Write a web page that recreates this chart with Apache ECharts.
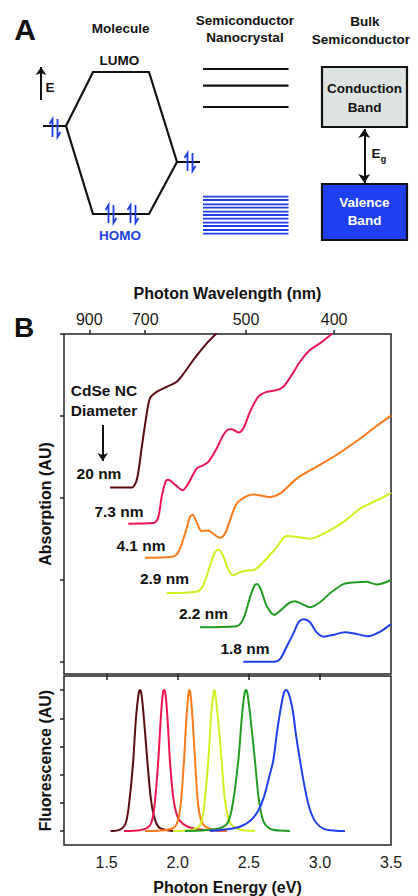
<!DOCTYPE html>
<html>
<head>
<meta charset="utf-8">
<script src="https://cdn.jsdelivr.net/npm/echarts@6/dist/echarts.min.js"></script>
<style>
  html, body { margin: 0; padding: 0; background: #fff; }
  #main { width: 418px; height: 896px; }
</style>
</head>
<body>
<div id="main"></div>
<script>
// ---- panel B data: photon energy (eV) vs absorption / fluorescence (AU) ----
var sizes = ['20 nm', '7.3 nm', '4.1 nm', '2.9 nm', '2.2 nm', '1.8 nm'];
var colors = ['#5a0d12', '#ec1552', '#ff7a1a', '#d2f020', '#1f9c1f', '#2040ee'];

var abs20 = [[1.524,2.125],[1.676,2.125],[1.706,2.19],[1.723,2.316],[1.746,2.606],[1.777,2.972],[1.805,3.217],[1.852,3.294],[1.922,3.355],[1.993,3.417],[2.051,3.539],[2.109,3.682],[2.204,3.886],[2.274,4.009]];
var abs73 = [[1.652,1.684],[1.828,1.692],[1.861,1.749],[1.889,2.031],[1.917,2.208],[1.933,2.220],[1.981,2.161],[2.035,2.092],[2.074,2.174],[2.133,2.357],[2.180,2.398],[2.215,2.438],[2.274,2.602],[2.320,2.765],[2.360,2.838],[2.381,2.838],[2.426,2.798],[2.461,2.846],[2.508,3.050],[2.566,3.233],[2.625,3.294],[2.696,3.315],[2.742,3.355],[2.801,3.498],[2.860,3.661],[2.930,3.804],[3.000,3.886],[3.059,3.967],[3.090,4.009]];
var abs41 = [[1.770,1.268],[1.959,1.281],[2.004,1.337],[2.051,1.562],[2.086,1.765],[2.105,1.794],[2.133,1.704],[2.168,1.594],[2.215,1.602],[2.250,1.562],[2.297,1.513],[2.332,1.562],[2.367,1.725],[2.414,1.929],[2.473,2.010],[2.531,2.040],[2.649,2.010],[2.719,2.051],[2.837,2.235],[2.953,2.357],[3.094,2.499],[3.235,2.663],[3.375,2.846],[3.500,3.003]];
var abs29 = [[1.922,0.838],[2.133,0.853],[2.180,0.936],[2.227,1.174],[2.262,1.337],[2.287,1.366],[2.318,1.297],[2.355,1.125],[2.391,1.058],[2.438,1.092],[2.494,1.113],[2.543,1.125],[2.602,1.215],[2.696,1.398],[2.766,1.535],[2.848,1.521],[2.930,1.501],[3.047,1.582],[3.164,1.704],[3.282,1.868],[3.375,1.949],[3.469,2.031],[3.500,2.061]];
var abs22 = [[2.156,0.420],[2.414,0.432],[2.461,0.522],[2.508,0.783],[2.540,0.930],[2.559,0.950],[2.585,0.881],[2.628,0.673],[2.680,0.571],[2.726,0.630],[2.782,0.716],[2.824,0.738],[2.872,0.706],[2.930,0.664],[2.993,0.716],[3.078,0.844],[3.169,0.950],[3.258,0.970],[3.324,0.976],[3.401,0.942],[3.500,0.997]];
var abs18 = [[2.461,0],[2.677,0],[2.719,0.031],[2.766,0.183],[2.813,0.343],[2.853,0.489],[2.888,0.517],[2.930,0.481],[2.979,0.355],[3.028,0.306],[3.099,0.330],[3.176,0.361],[3.246,0.343],[3.338,0.312],[3.422,0.365],[3.500,0.459]];

var fl20 = [[1.528,0],[1.594,0.01],[1.636,0.06],[1.664,0.25],[1.687,0.5],[1.706,0.8],[1.724,0.97],[1.734,1],[1.745,0.97],[1.762,0.8],[1.786,0.5],[1.812,0.22],[1.840,0.08],[1.875,0.02],[1.967,0]];
var fl73 = [[1.622,0],[1.734,0.005],[1.805,0.04],[1.833,0.15],[1.863,0.5],[1.882,0.82],[1.896,0.98],[1.903,1],[1.914,0.97],[1.928,0.8],[1.945,0.5],[1.967,0.25],[1.995,0.11],[2.037,0.05],[2.121,0.015],[2.227,0.005],[2.344,0]];
var fl41 = [[1.770,0],[1.910,0.005],[1.981,0.03],[2.016,0.15],[2.044,0.5],[2.062,0.82],[2.076,0.98],[2.081,1],[2.090,0.97],[2.104,0.8],[2.122,0.5],[2.142,0.2],[2.170,0.06],[2.227,0.015],[2.344,0]];
var fl29 = [[1.969,0],[2.086,0.005],[2.156,0.04],[2.185,0.17],[2.215,0.5],[2.237,0.85],[2.252,0.98],[2.257,1],[2.265,0.97],[2.283,0.8],[2.309,0.5],[2.332,0.22],[2.367,0.06],[2.438,0.01],[2.543,0]];
var fl22 = [[2.051,0],[2.192,0.005],[2.297,0.02],[2.353,0.06],[2.388,0.2],[2.426,0.5],[2.452,0.82],[2.469,0.97],[2.480,1],[2.491,0.97],[2.512,0.8],[2.543,0.5],[2.571,0.22],[2.606,0.06],[2.663,0.01],[2.789,0]];
var fl18 = [[2.227,0],[2.332,0.01],[2.438,0.03],[2.508,0.07],[2.564,0.14],[2.606,0.24],[2.642,0.38],[2.672,0.5],[2.698,0.7],[2.726,0.88],[2.747,0.98],[2.761,1],[2.782,0.97],[2.810,0.85],[2.832,0.68],[2.860,0.5],[2.895,0.3],[2.930,0.15],[2.972,0.06],[3.028,0.015],[3.106,0.002],[3.176,0]];

var absSets = [abs20, abs73, abs41, abs29, abs22, abs18];
var flSets = [fl20, fl73, fl41, fl29, fl22, fl18];

var energyTicks = [1.5, 2.0, 2.5, 3.0, 3.5];
var wavelengthTicks = [900, 700, 500, 400];
var absTicks = [0, 1, 2, 3, 4];
var flTicks = [0, 0.2, 0.4, 0.6, 0.8, 1.0];

// ---- panel A schematic (diagram units, y grows downward) ----
var hexUpper = [[43,126],[66,126],[93,72],[149,72],[177,162],[200,162]];
var hexLower = [[66,126],[93,214],[149,214],[177,162]];
var ncUpperLevels = [69, 85.7, 107];
var ncLowerLevels = [196.7, 200, 204.3, 207.7, 211.7, 215, 218.7, 222.7, 226, 230, 233.7];
var ncSpan = [203, 288.5];
var spinCenters = [[55,128],[190,162],[111,214],[133,214]];
var bandBoxes = [[322,67,407,127],[322,184,407,240]];
var bandFills = ['#dde3e0', '#1f3ff2'];

var FONT = '"Liberation Sans", Arial, Helvetica, sans-serif';
var BLUE = '#1f3fe6';

function txt(text, x, y, size, color, weight) {
    return {
        type: 'text', z: 100,
        style: {
            text: text, x: x, y: y, fill: color || '#111',
            font: (weight || 'bold') + ' ' + size + 'px ' + FONT,
            textAlign: 'center', textVerticalAlign: 'middle',
            align: 'center', verticalAlign: 'middle'
        }
    };
}

var levelLines = [];
ncUpperLevels.forEach(function (y) { levelLines.push({coords: [[ncSpan[0], y], [ncSpan[1], y]]}); });
var blueLevels = [];
ncLowerLevels.forEach(function (y) { blueLevels.push({coords: [[ncSpan[0], y], [ncSpan[1], y]]}); });

var spinLines = [];
spinCenters.forEach(function (c) {
    var x = c[0], y = c[1];
    spinLines.push({coords: [[x - 2.5, y + 9], [x - 2.5, y - 9], [x - 5.5, y - 4]]});
    spinLines.push({coords: [[x + 2.5, y - 9], [x + 2.5, y + 9], [x + 5.5, y + 4]]});
});

var series = [
    {
        type: 'lines', coordinateSystem: 'cartesian2d', xAxisIndex: 0, yAxisIndex: 0,
        polyline: true, silent: true,
        lineStyle: {color: '#111', width: 2.2, opacity: 1},
        data: [{coords: hexUpper}, {coords: hexLower}].concat(levelLines)
    },
    {
        type: 'lines', coordinateSystem: 'cartesian2d', xAxisIndex: 0, yAxisIndex: 0,
        polyline: true, silent: true,
        lineStyle: {color: BLUE, width: 1.8, opacity: 1},
        data: blueLevels.concat(spinLines)
    },
    {
        type: 'lines', coordinateSystem: 'cartesian2d', xAxisIndex: 0, yAxisIndex: 0,
        silent: true, symbol: ['none', 'arrow'], symbolSize: 8,
        lineStyle: {color: '#111', width: 2, opacity: 1},
        data: [{coords: [[41, 100], [41, 67]]}, {coords: [[102.7, 425], [102.7, 461]]}]
    },
    {
        type: 'lines', coordinateSystem: 'cartesian2d', xAxisIndex: 0, yAxisIndex: 0,
        silent: true, symbol: ['arrow', 'arrow'], symbolSize: 9,
        lineStyle: {color: '#111', width: 2, opacity: 1},
        data: [{coords: [[364.3, 129], [364.3, 183]]}]
    },
    {
        type: 'custom', xAxisIndex: 0, yAxisIndex: 0, silent: true,
        encode: {x: [0, 2], y: [1, 3]},
        data: bandBoxes,
        renderItem: function (params, api) {
            var p1 = api.coord([api.value(0), api.value(1)]);
            var p2 = api.coord([api.value(2), api.value(3)]);
            return {
                type: 'rect',
                shape: {x: p1[0], y: p1[1], width: p2[0] - p1[0], height: p2[1] - p1[1]},
                style: {fill: bandFills[params.dataIndex], stroke: '#111', lineWidth: 2.2}
            };
        }
    }
];

absSets.forEach(function (d, i) {
    series.push({
        type: 'line', xAxisIndex: 1, yAxisIndex: 1, data: d,
        showSymbol: false, smooth: 0.3, silent: true,
        lineStyle: {color: colors[i], width: 2}
    });
});
flSets.forEach(function (d, i) {
    series.push({
        type: 'line', xAxisIndex: 3, yAxisIndex: 2, data: d,
        showSymbol: false, smooth: 0.3, silent: true,
        lineStyle: {color: colors[i], width: 2}
    });
});

var axisText = {color: '#1a1a1a', fontSize: 16, fontFamily: FONT};
var nameText = {color: '#111', fontSize: 16, fontWeight: 'bold', fontFamily: FONT};
var hiddenLine = {show: false, onZero: false};

var option = {
    backgroundColor: '#fff',
    animation: false,
    grid: [
        {left: 0, top: 0, width: 418, height: 896, show: false},
        {left: 64, top: 334, width: 327, height: 340, show: true, borderColor: '#222', borderWidth: 1.5, backgroundColor: 'transparent'},
        {left: 64, top: 676, width: 327, height: 169, show: true, borderColor: '#222', borderWidth: 1.5, backgroundColor: 'transparent'}
    ],
    xAxis: [
        {gridIndex: 0, type: 'value', min: 0, max: 418, show: false},
        {
            gridIndex: 1, type: 'value', position: 'bottom', min: 1.2, max: 3.5,
            axisLine: hiddenLine, splitLine: {show: false},
            axisLabel: {show: false},
            axisTick: {show: true, inside: false, length: 6, customValues: [1.5, 2.0, 2.5, 3.0], lineStyle: {color: '#222', width: 1.5}}
        },
        {
            gridIndex: 1, type: 'value', position: 'top', min: 1.2, max: 3.5,
            axisLine: hiddenLine, splitLine: {show: false},
            name: 'Photon Wavelength (nm)', nameLocation: 'middle', nameGap: 33, nameTextStyle: nameText,
            axisLabel: Object.assign({
                margin: 7,
                customValues: wavelengthTicks.map(function (w) { return 1240 / w; }),
                formatter: function (v) { return String(Math.round(1240 / v)); }
            }, axisText),
            axisTick: {show: true, inside: false, length: 4, customValues: wavelengthTicks.map(function (w) { return 1240 / w; }), lineStyle: {color: '#222', width: 1.5}}
        },
        {
            gridIndex: 2, type: 'value', position: 'bottom', min: 1.2, max: 3.5,
            axisLine: hiddenLine, splitLine: {show: false},
            name: 'Photon Energy (eV)', nameLocation: 'middle', nameGap: 34, nameTextStyle: nameText,
            axisLabel: Object.assign({
                margin: 9,
                customValues: energyTicks,
                formatter: function (v) { return v.toFixed(1); }
            }, axisText),
            axisTick: {show: false}
        }
    ],
    yAxis: [
        {gridIndex: 0, type: 'value', min: 0, max: 896, inverse: true, show: false},
        {
            gridIndex: 1, type: 'value', min: -0.15, max: 4,
            axisLine: hiddenLine, splitLine: {show: false}, axisLabel: {show: false},
            name: 'Absorption (AU)', nameLocation: 'middle', nameGap: 11, nameRotate: 90, nameTextStyle: nameText,
            axisTick: {show: true, inside: false, length: 4, customValues: absTicks, lineStyle: {color: '#222', width: 1.5}}
        },
        {
            gridIndex: 2, type: 'value', min: -0.1, max: 1.1,
            axisLine: hiddenLine, splitLine: {show: false}, axisLabel: {show: false},
            name: 'Fluorescence (AU)', nameLocation: 'middle', nameGap: 11, nameRotate: 90, nameTextStyle: nameText,
            axisTick: {show: true, inside: false, length: 4, customValues: flTicks, lineStyle: {color: '#222', width: 1.5}}
        }
    ],
    graphic: [
        txt('A', 25, 29, 30),
        txt('Molecule', 120.7, 28.3, 13.5),
        txt('Semiconductor', 245, 20.7, 13.5),
        txt('Nanocrystal', 245, 37.7, 13.5),
        txt('Bulk', 365, 21.7, 13.5),
        txt('Semiconductor', 361, 39.3, 13.5),
        txt('LUMO', 119.3, 60.7, 13.5),
        txt('HOMO', 120, 235, 13.5, BLUE),
        txt('E', 50, 87.3, 13.5),
        txt('Conduction', 364.5, 88.3, 13.5),
        txt('Band', 364.5, 107.3, 13.5),
        txt('Valence', 364.5, 202.3, 13.5, '#fff'),
        txt('Band', 364.5, 220, 13.5, '#fff'),
        txt('E', 376, 153, 13.5),
        txt('g', 383.5, 158, 9.5),
        txt('B', 24, 327.5, 28),
        txt('CdSe NC', 104, 390, 15.5),
        txt('Diameter', 104, 410, 15.5),
        txt(sizes[0], 99, 473, 15.5),
        txt(sizes[1], 119, 511, 15.5),
        txt(sizes[2], 141, 545, 15.5),
        txt(sizes[3], 164.5, 578, 15.5),
        txt(sizes[4], 203.5, 613, 15.5),
        txt(sizes[5], 245, 648, 15.5)
    ],
    series: series
};

var myChart = echarts.init(document.getElementById('main'), null, {renderer: 'svg'});
myChart.setOption(option);
</script>
</body>
</html>
